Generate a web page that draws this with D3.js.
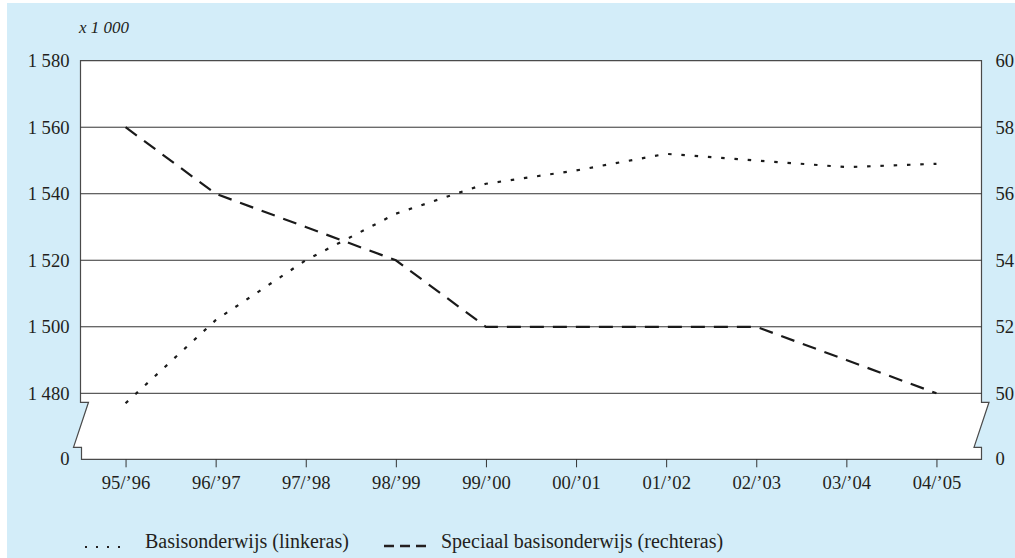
<!DOCTYPE html>
<html><head><meta charset="utf-8">
<script src="https://cdn.jsdelivr.net/npm/d3@7"></script>
<style>
body{margin:0;background:#fff}
svg{display:block}
text{font-family:"Liberation Serif","DejaVu Serif",serif;fill:#231f20}
</style>
</head><body>
<svg id="chart" width="1015" height="558"></svg>
<script>
const categories = ["95/\u201996","96/\u201997","97/\u201998","98/\u201999","99/\u201900","00/\u201901","01/\u201902","02/\u201903","03/\u201904","04/\u201905"];
const basisonderwijs = [1477,1502,1520,1534,1543,1547,1552,1550,1548,1549];
const speciaal = [58,56,55,54,52,52,52,52,51,50];
const leftTicks = [1480,1500,1520,1540,1560,1580];
const rightTicks = [50,52,54,56,58,60];
const seriesNames = ["Basisonderwijs (linkeras)","Speciaal basisonderwijs (rechteras)"];
const unitLabel = "x 1 000";

const svg = d3.select("#chart");
const W = 1015, H = 558;
const L = 80.5, R = 981.5, T = 60.7, Y0 = 393.3, B = 459.3, BT = 402.3, BB = 447.3;
const FS = 18.6;

svg.append("rect").attr("x",7).attr("y",3).attr("width",W-7).attr("height",H-3).attr("fill","#d3edf9");

const x = d3.scalePoint().domain(categories).range([L,R]).padding(0.5);
const yL = d3.scaleLinear().domain([1480,1580]).range([Y0,T]);
const yR = d3.scaleLinear().domain([50,60]).range([Y0,T]);
const fmt = d3.formatLocale({decimal:",",thousands:"\u2009",grouping:[3],currency:["",""]}).format(",");
const fmtSp = v => fmt(v).replace("\u2009"," ");

// plot area with axis break
const shape = [[L,T],[L,BT],[L+8,BT],[L-7,BB],[L+1,BB],[L+1,B],[R,B],[R,BB],[R-7.5,BB],[R+7.5,BT],[R,BT],[R,T]];
svg.append("path").attr("d","M"+shape.map(p=>p.join(",")).join("L")+"Z")
  .attr("fill","#fff").attr("stroke","#4a4a4a").attr("stroke-width",1.2);

// gridlines
svg.append("g").selectAll("line").data(leftTicks.slice(0,-1)).join("line")
  .attr("x1",L).attr("x2",R).attr("y1",d=>yL(d)).attr("y2",d=>yL(d))
  .attr("stroke","#333").attr("stroke-width",1);

// left axis
const gl = svg.append("g").attr("transform",`translate(${L-11},0)`)
  .call(d3.axisLeft(yL).tickValues(leftTicks).tickSize(0).tickPadding(0).tickFormat(fmtSp));
gl.select(".domain").remove();
gl.selectAll("text").attr("font-size",FS).attr("font-family","Liberation Serif").attr("fill","#231f20");
svg.append("text").attr("x",L-11).attr("y",B).attr("dy","0.32em").attr("text-anchor","end").attr("font-size",FS).text("0");

// right axis
const gr = svg.append("g").attr("transform",`translate(${R+14},0)`)
  .call(d3.axisRight(yR).tickValues(rightTicks).tickSize(0).tickPadding(0));
gr.select(".domain").remove();
gr.selectAll("text").attr("font-size",FS).attr("font-family","Liberation Serif").attr("fill","#231f20");
svg.append("text").attr("x",R+14).attr("y",B).attr("dy","0.32em").attr("font-size",FS).text("0");

// bottom axis
const gb = svg.append("g").attr("transform",`translate(0,${B})`)
  .call(d3.axisBottom(x).tickSize(8).tickPadding(8));
gb.select(".domain").remove();
gb.selectAll("line").attr("stroke","#333");
gb.selectAll("text").attr("font-size",FS).attr("font-family","Liberation Serif").attr("fill","#231f20");

// unit label
svg.append("text").attr("x",79).attr("y",33).attr("font-size",17).attr("font-style","italic").text(unitLabel);

// lines
const lineL = d3.line().x((d,i)=>x(categories[i])).y(d=>yL(d));
const lineR = d3.line().x((d,i)=>x(categories[i])).y(d=>yR(d));
svg.append("path").datum(basisonderwijs).attr("d",lineL).attr("fill","none")
  .attr("stroke","#1a1a1a").attr("stroke-width",2.2).attr("stroke-dasharray","3.5,9.8");
svg.append("path").datum(speciaal).attr("d",lineR).attr("fill","none")
  .attr("stroke","#1a1a1a").attr("stroke-width",2.2).attr("stroke-dasharray","14,9");

// legend
const lg = svg.append("g");
lg.append("line").attr("x1",85).attr("x2",120).attr("y1",547).attr("y2",547)
  .attr("stroke","#231f20").attr("stroke-width",2).attr("stroke-dasharray","2,9");
lg.append("text").attr("x",145).attr("y",548).attr("font-size",20).text(seriesNames[0]);
lg.append("line").attr("x1",384).attr("x2",426).attr("y1",546).attr("y2",546)
  .attr("stroke","#231f20").attr("stroke-width",2.5).attr("stroke-dasharray","10,6");
lg.append("text").attr("x",441).attr("y",548).attr("font-size",20).text(seriesNames[1]);
</script>
</body></html>
